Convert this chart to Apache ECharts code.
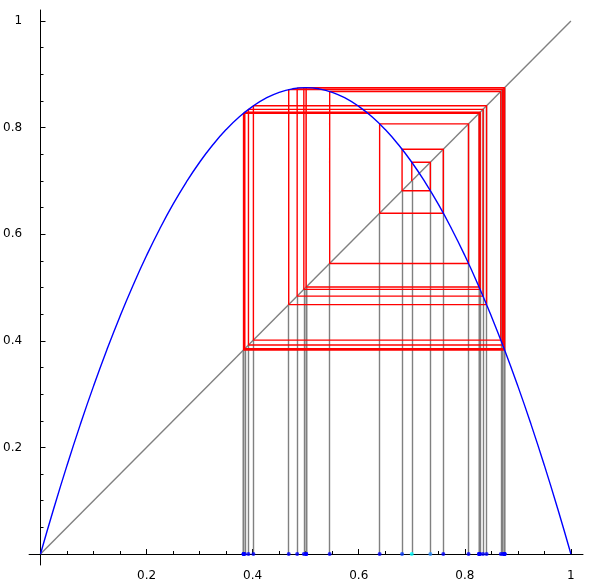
<!DOCTYPE html>
<html>
<head>
<meta charset="utf-8">
<script src="https://cdn.jsdelivr.net/npm/echarts@6/dist/echarts.min.js"></script>
<style>
  html, body { margin: 0; padding: 0; background: #fff; }
  #chart { width: 592px; height: 584px; }
</style>
</head>
<body>
<div id="chart"></div>
<script>
// curve y = f(x)
const curveX = [0, 0.025, 0.05, 0.075, 0.1, 0.125, 0.15, 0.175, 0.2, 0.225, 0.25,
  0.275, 0.3, 0.325, 0.35, 0.375, 0.4, 0.425, 0.45, 0.475, 0.5,
  0.525, 0.55, 0.575, 0.6, 0.625, 0.65, 0.675, 0.7, 0.725, 0.75,
  0.775, 0.8, 0.825, 0.85, 0.875, 0.9, 0.925, 0.95, 0.975, 1];
const curveY = [0, 0.0853, 0.1663, 0.2428, 0.315, 0.3828, 0.4463, 0.5053, 0.56, 0.6103, 0.6563,
  0.6978, 0.735, 0.7678, 0.7963, 0.8203, 0.84, 0.8553, 0.8663, 0.8728, 0.875,
  0.8728, 0.8663, 0.8553, 0.84, 0.8203, 0.7963, 0.7678, 0.735, 0.6978, 0.6563,
  0.6103, 0.56, 0.5053, 0.4463, 0.3828, 0.315, 0.2428, 0.1663, 0.0853, 0];

// diagonal y = x
const diagX = [0, 1];
const diagY = [0, 1];

// iterates x0, x1, x2, ... (cobweb orbit)
const orbit = [0.7, 0.735, 0.6817, 0.7594, 0.6394, 0.807, 0.5452, 0.8678, 0.4014,
  0.841, 0.468, 0.8714, 0.3921, 0.8343, 0.4839, 0.8741, 0.3852, 0.8289, 0.4965,
  0.875, 0.3829, 0.827, 0.5007, 0.875, 0.3828, 0.8269, 0.5009, 0.875, 0.3828,
  0.8269, 0.5009];

const dotColors = ['#00ffff', '#2a8cff', '#0a3cff'];

const majorTicks = [0.2, 0.4, 0.6, 0.8, 1];
const minorTicks = [0.05, 0.1, 0.15, 0.25, 0.3, 0.35, 0.45, 0.5, 0.55, 0.65, 0.7,
  0.75, 0.85, 0.9, 0.95];

const xMin = -0.0215, xMax = 1.0228;
const yMin = -0.0206, yMax = 1.0207;

// build shapes from the data
const curveData = curveX.map((x, i) => [x, curveY[i]]);
const diagData = diagX.map((x, i) => [x, diagY[i]]);

const cobweb = [[orbit[0], orbit[0]]];
for (let i = 0; i < orbit.length - 1; i++) {
  cobweb.push([orbit[i], orbit[i + 1]]);
  cobweb.push([orbit[i + 1], orbit[i + 1]]);
}

const drops = orbit.map(x => ({ coords: [[x, 0], [x, x]] }));

const dots = orbit.map((x, i) => ({
  value: [x, 0],
  itemStyle: { color: dotColors[i] || '#0000ff' }
})).reverse();

const labelFont = { fontFamily: 'DejaVu Sans', fontSize: 12, color: '#000' };

function mainAxis(min, max, pos, margin) {
  return {
    type: 'value', min: min, max: max, position: pos,
    axisLine: { onZero: true, lineStyle: { color: '#000', width: 1 } },
    axisTick: { inside: true, length: 5, customValues: majorTicks, lineStyle: { color: '#000' } },
    axisLabel: Object.assign({ customValues: majorTicks, margin: margin }, labelFont),
    splitLine: { show: false }
  };
}
function minorAxis(min, max, pos) {
  return {
    type: 'value', min: min, max: max, position: pos,
    axisLine: { show: false, onZero: true, onZeroAxisIndex: 0 },
    axisTick: { inside: true, length: 3, customValues: minorTicks, lineStyle: { color: '#000' } },
    axisLabel: { show: false },
    splitLine: { show: false }
  };
}

const chart = echarts.init(document.getElementById('chart'));
chart.setOption({
  animation: false,
  backgroundColor: '#fff',
  grid: { left: 27, right: 9, top: 10, bottom: 19 },
  xAxis: [mainAxis(xMin, xMax, 'bottom', 5), minorAxis(xMin, xMax, 'bottom')],
  yAxis: [mainAxis(yMin, yMax, 'left', 7), minorAxis(yMin, yMax, 'left')],
  series: [
    {
      type: 'line', data: diagData, showSymbol: false, z: 1,
      lineStyle: { color: '#808080', width: 1.4 }
    },
    {
      type: 'lines', coordinateSystem: 'cartesian2d', data: drops, z: 2,
      lineStyle: { color: '#808080', width: 1.4, opacity: 1 }
    },
    {
      type: 'line', data: cobweb, showSymbol: false, z: 3,
      lineStyle: { color: '#ff0000', width: 1.4 }
    },
    {
      type: 'line', data: curveData, smooth: true, showSymbol: false, z: 4,
      lineStyle: { color: '#0000ff', width: 1.4 }
    },
    {
      type: 'scatter', data: dots, symbolSize: 4, z: 5
    }
  ]
});
</script>
</body>
</html>
